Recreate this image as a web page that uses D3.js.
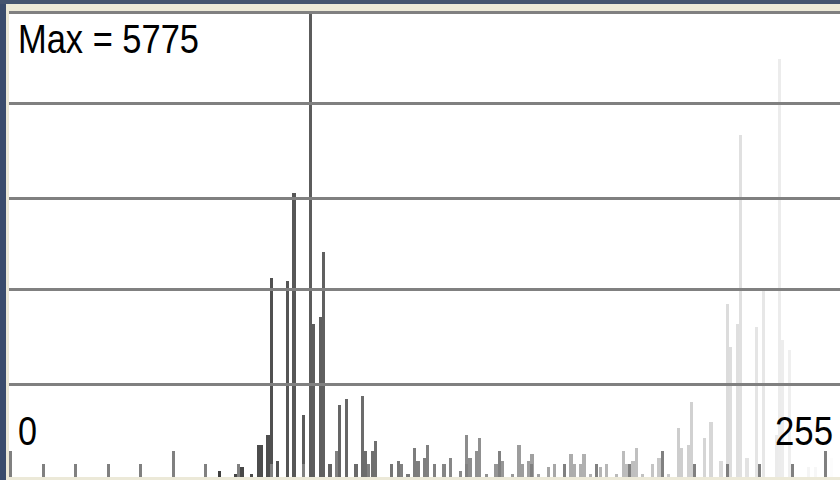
<!DOCTYPE html>
<html><head><meta charset="utf-8">
<script src="https://cdn.jsdelivr.net/npm/d3@7"></script>
<style>html,body{margin:0;padding:0;background:#ece9d8;overflow:hidden}</style>
</head><body><svg id="c" width="840" height="480"></svg>
<script>
// ---- data ----
const maxLabel = "Max = 5775";
const maxValue = 5775;
const levels = [64,69,71,74,76,77,79,80,82,85,87,90,92,93,95,96,98,101,103,106,108,109,111,112,
  117,119,122,124,125,127,128,133,135,138,140,141,143,144,146,149,151,154,156,157,159,160,162,165,167,
  172,173,175,176,178,181,183,186,188,189,191,192,194,197,199,202,205,206,208,209,213,215,218,
  220,221,223,224,226,229,231,235,236,237,239,245,247,252];
const counts = [75,37,124,37,397,397,522,2471,199,2434,3527,770,5775,1900,1987,2794,161,894,969,161,1006,323,323,447,
  161,199,37,360,199,236,397,161,236,75,522,236,323,484,37,161,199,37,397,161,199,286,37,124,161,
  286,161,161,286,37,124,161,37,323,161,199,360,37,161,236,37,609,360,397,932,484,683,199,
  2149,1615,1900,4248,236,1863,2310,522,5191,1702,1577,124,124,236];
const tickLevels = d3.range(0, 256, 10);
const majorTickEvery = 50;
const gridValues = [1150, 2335, 3465, 4645, 5775];
const axisLabels = ["0", "255"];

// ---- drawing ----
const svg = d3.select("#c");
const W = 840, H = 480;
const plot = {left: 9, right: 840, top: 12.5, bottom: 477};

svg.append("rect").attr("width", W).attr("height", H).attr("fill", "#ece9d8");
svg.append("rect").attr("x", 0).attr("y", 0).attr("width", 6).attr("height", H).attr("fill", "#3a4c6c");
svg.append("rect").attr("x", 0).attr("y", 0).attr("width", W).attr("height", 4).attr("fill", "#44546f");
svg.append("rect").attr("x", plot.left).attr("y", 11).attr("width", plot.right - plot.left)
  .attr("height", plot.bottom - 11).attr("fill", "#ffffff");

const x = d3.scaleLinear().domain([0, 256]).range([plot.left, plot.left + 256 * 3.258]);
const y = d3.scaleLinear().domain([0, maxValue]).range([plot.bottom, plot.top]);

const data = levels.map((l, i) => ({level: l, count: counts[i]}));
const g = svg.append("g").attr("shape-rendering", "crispEdges");

g.selectAll("rect.bar").data(data).join("rect").attr("class", "bar")
  .attr("x", d => Math.round(x(d.level)))
  .attr("width", d => Math.round(x(d.level + 1)) - Math.round(x(d.level)))
  .attr("y", d => Math.round(y(d.count)))
  .attr("height", d => plot.bottom - Math.round(y(d.count)))
  .attr("fill", d => d3.rgb(d.level, d.level, d.level));

g.selectAll("rect.grid").data(gridValues).join("rect").attr("class", "grid")
  .attr("x", plot.left).attr("width", plot.right - plot.left)
  .attr("y", d => Math.round(y(d) - 1.5)).attr("height", 3).attr("fill", "#808080");

g.selectAll("rect.tick").data(tickLevels).join("rect").attr("class", "tick")
  .attr("x", d => Math.round(x(d))).attr("width", 3)
  .attr("y", d => plot.bottom - (d % majorTickEvery === 0 ? 26 : 13))
  .attr("height", d => d % majorTickEvery === 0 ? 26 : 13)
  .attr("fill", "#808080");

const font = "'Liberation Sans', Arial, sans-serif";
svg.append("text").attr("x", 18).attr("y", 53).attr("font-family", font).attr("font-size", 40)
  .attr("textLength", 181).attr("lengthAdjust", "spacingAndGlyphs").attr("fill", "#000").text(maxLabel);
svg.append("text").attr("x", 18).attr("y", 445).attr("font-family", font).attr("font-size", 41)
  .attr("textLength", 19).attr("lengthAdjust", "spacingAndGlyphs").attr("fill", "#000").text(axisLabels[0]);
svg.append("text").attr("x", 775).attr("y", 445).attr("font-family", font).attr("font-size", 41)
  .attr("textLength", 58).attr("lengthAdjust", "spacingAndGlyphs").attr("fill", "#000").text(axisLabels[1]);
</script></body></html>
